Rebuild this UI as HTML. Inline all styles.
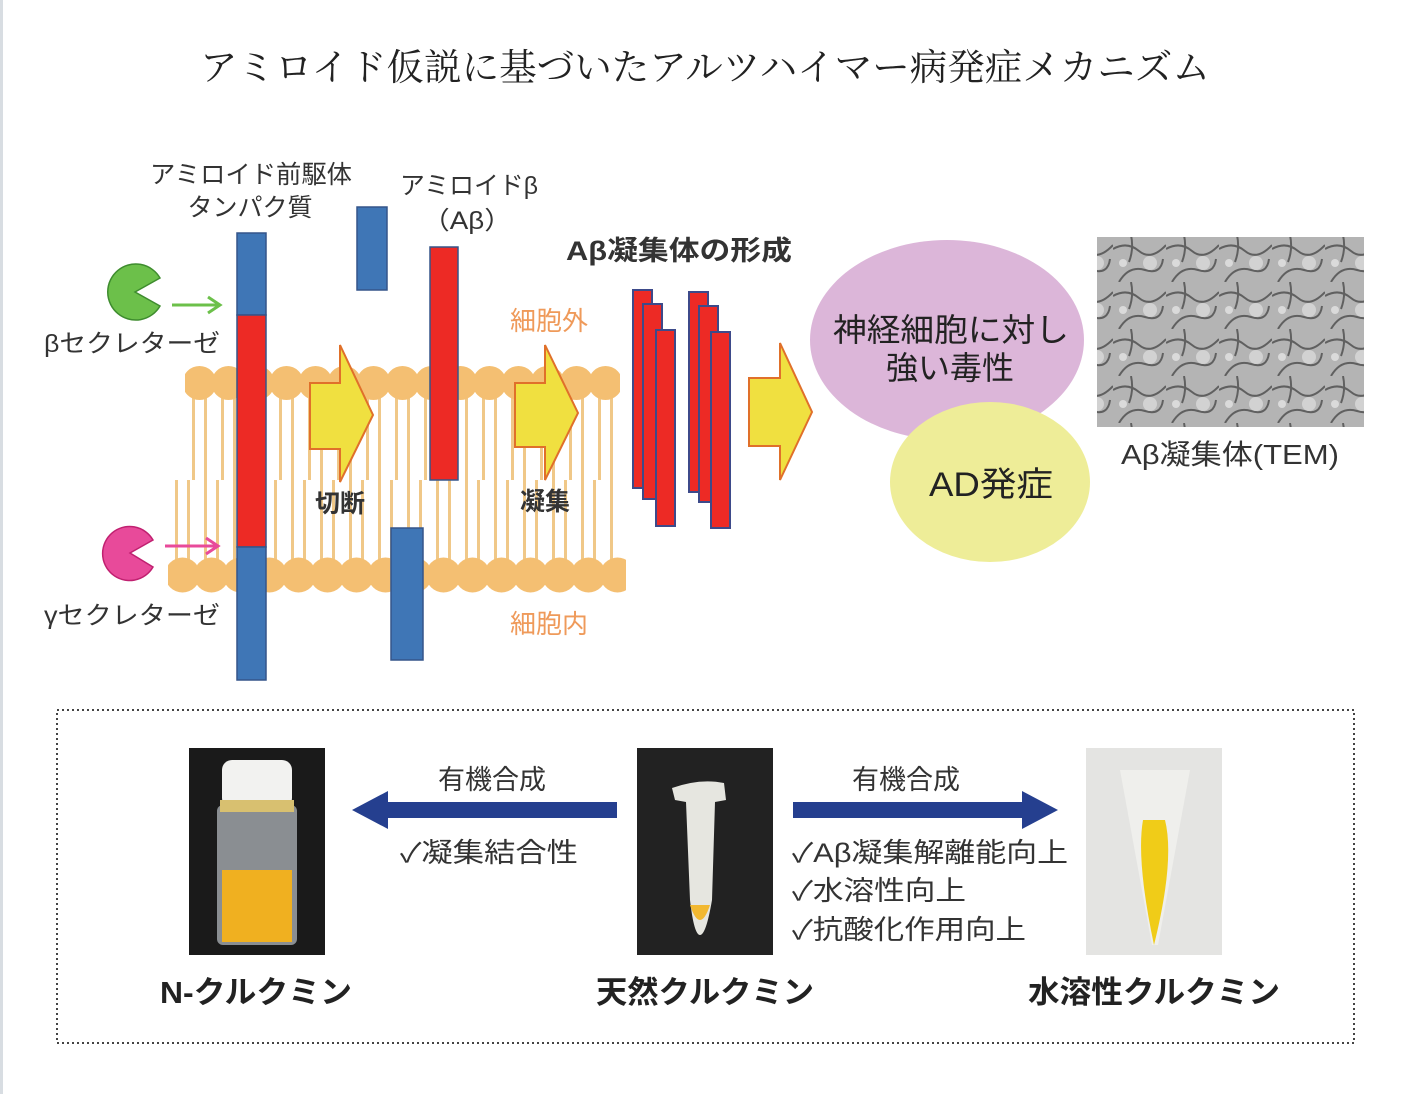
<!DOCTYPE html>
<html><head><meta charset="utf-8"><style>
html,body{margin:0;padding:0;background:#fff}
svg{display:block}
text{font-family:"Liberation Sans","Noto Sans CJK JP",sans-serif}
</style></head><body>
<svg width="1405" height="1094" viewBox="0 0 1405 1094" xmlns="http://www.w3.org/2000/svg">
<defs>
<pattern id="heads" x="185" y="366" width="29" height="36" patternUnits="userSpaceOnUse">
<circle cx="14.5" cy="17" r="17" fill="#f4bf72"/></pattern>
<pattern id="heads2" x="168" y="557" width="29" height="36" patternUnits="userSpaceOnUse">
<circle cx="14.5" cy="18" r="17.5" fill="#f4bf72"/></pattern>
<pattern id="tails" x="185" y="0" width="29" height="10" patternUnits="userSpaceOnUse">
<rect x="7" y="0" width="3" height="10" fill="#f0c888"/><rect x="19" y="0" width="3" height="10" fill="#f0c888"/></pattern>
<pattern id="tails2" x="168" y="0" width="29" height="10" patternUnits="userSpaceOnUse">
<rect x="7" y="0" width="3" height="10" fill="#f0c888"/><rect x="19" y="0" width="3" height="10" fill="#f0c888"/></pattern>
<pattern id="tem" width="53" height="47" patternUnits="userSpaceOnUse">
<rect width="53" height="47" fill="#b4b4b4"/>
<path d="M0 14 Q14 6 26 16 T53 10 M6 47 Q16 30 32 35 T50 24 M18 0 Q21 14 16 27" stroke="#606060" stroke-width="2" fill="none"/>
<circle cx="37" cy="28" r="7" fill="#d2d2d2"/><circle cx="10" cy="28" r="4" fill="#dadada"/></pattern>
</defs>
<rect x="0" y="0" width="3" height="1094" fill="#d8dde2"/>

<text x="200" y="80" font-size="37" textLength="1010" lengthAdjust="spacingAndGlyphs" style="font-family:'Liberation Serif','Noto Serif CJK SC',serif" fill="#222">アミロイド仮説に基づいたアルツハイマー病発症メカニズム</text>

<!-- membrane -->
<rect x="185" y="395" width="435" height="85" fill="url(#tails)"/>
<rect x="168" y="480" width="452" height="85" fill="url(#tails2)"/>
<rect x="185" y="366" width="435" height="36" fill="url(#heads)"/>
<rect x="168" y="557" width="458" height="36" fill="url(#heads2)"/>

<!-- bars -->
<rect x="237" y="233" width="29" height="82" fill="#3f76b6" stroke="#35558a" stroke-width="1.5"/>
<rect x="237" y="315" width="29" height="232" fill="#ed2a25" stroke="#35558a" stroke-width="1.5"/>
<rect x="237" y="547" width="29" height="133" fill="#3f76b6" stroke="#35558a" stroke-width="1.5"/>
<rect x="357" y="207" width="30" height="83" fill="#3f76b6" stroke="#35558a" stroke-width="1.5"/>
<rect x="430" y="247" width="28" height="233" fill="#ed2a25" stroke="#35558a" stroke-width="1.5"/>
<rect x="391" y="528" width="32" height="132" fill="#3f76b6" stroke="#35558a" stroke-width="1.5"/>

<!-- pacmen -->
<path d="M135 292 L160 278 A28 28 0 1 0 160 306 Z" fill="#6cc04a" stroke="#3e8c2e" stroke-width="1.5"/>
<path d="M172 305 L218 305" stroke="#6cc04a" stroke-width="3"/><path d="M208 297 L220 305 L208 313" stroke="#6cc04a" stroke-width="3" fill="none"/>
<path d="M130 553 L153 540 A27 27 0 1 0 153 567 Z" fill="#e84a9a" stroke="#c02070" stroke-width="1.5"/>
<path d="M165 546 L216 546" stroke="#e84a9a" stroke-width="3"/><path d="M206 538 L218 546 L206 554" stroke="#e84a9a" stroke-width="3" fill="none"/>

<!-- yellow arrows -->
<path d="M310 383 L340 383 L340 345 L373 415 L340 482 L340 449 L310 449 Z" fill="#f0e040" stroke="#e0702a" stroke-width="2"/>
<path d="M515 383 L545 383 L545 345 L578 413 L545 480 L545 447 L515 447 Z" fill="#f0e040" stroke="#e0702a" stroke-width="2"/>
<path d="M749 378 L780 378 L780 343 L812 412 L780 480 L780 446 L749 446 Z" fill="#f0e040" stroke="#e0702a" stroke-width="2"/>

<!-- fibrils -->
<g fill="#ed2a25" stroke="#3d4a8a" stroke-width="2">
<rect x="633" y="290" width="19" height="198"/><rect x="643" y="304" width="19" height="195"/><rect x="656" y="330" width="19" height="196"/>
<rect x="689" y="292" width="19" height="200"/><rect x="699" y="306" width="19" height="196"/><rect x="711" y="332" width="19" height="196"/>
</g>

<!-- ellipses -->
<ellipse cx="947" cy="340" rx="137" ry="100" fill="#dcb6d9"/>
<ellipse cx="990" cy="482" rx="100" ry="80" fill="#eeed98"/>
<text x="833" y="341" font-size="32" textLength="236" lengthAdjust="spacingAndGlyphs" fill="#222">神経細胞に対し</text>
<text x="950" y="379" font-size="32" text-anchor="middle" fill="#222">強い毒性</text>
<text x="929" y="496" font-size="34" textLength="124" lengthAdjust="spacingAndGlyphs" fill="#222">AD発症</text>

<rect x="1097" y="237" width="267" height="190" fill="url(#tem)"/>
<text x="1121" y="464" font-size="28" textLength="218" lengthAdjust="spacingAndGlyphs" fill="#333">Aβ凝集体(TEM)</text>

<!-- labels -->
<g font-size="25" fill="#333">
<text x="150" y="183" textLength="202" lengthAdjust="spacingAndGlyphs">アミロイド前駆体</text>
<text x="250" y="216" text-anchor="middle">タンパク質</text>
<text x="400" y="194" textLength="138" lengthAdjust="spacingAndGlyphs">アミロイドβ</text>
<text x="422" y="229" textLength="90" lengthAdjust="spacingAndGlyphs">（Aβ）</text>
<text x="566" y="260" font-size="27" textLength="226" lengthAdjust="spacingAndGlyphs" font-weight="bold">Aβ凝集体の形成</text>
<text x="44" y="352" textLength="176" lengthAdjust="spacingAndGlyphs">βセクレターゼ</text>
<text x="44" y="624" textLength="176" lengthAdjust="spacingAndGlyphs">γセクレターゼ</text>
<text x="340" y="512" text-anchor="middle" font-weight="bold">切断</text>
<text x="545" y="510" text-anchor="middle" font-weight="bold">凝集</text>
</g>
<text x="549" y="330" font-size="26" text-anchor="middle" fill="#ef9a5a">細胞外</text>
<text x="549" y="633" font-size="26" text-anchor="middle" fill="#ef9a5a">細胞内</text>

<!-- bottom -->
<rect x="57" y="710" width="1297" height="333" fill="none" stroke="#444" stroke-width="2" stroke-dasharray="2,3"/>
<!-- photo 1 -->
<rect x="189" y="748" width="136" height="207" fill="#1a1a1a"/>
<rect x="217" y="805" width="80" height="140" rx="6" fill="#8a8e92"/>
<rect x="222" y="760" width="70" height="48" rx="10" fill="#f2f2f0"/>
<rect x="220" y="800" width="74" height="12" fill="#d8c070"/>
<rect x="222" y="870" width="70" height="72" fill="#f0b020"/>
<!-- photo 2 -->
<rect x="637" y="748" width="136" height="207" fill="#222"/>
<path d="M672 788 Q700 778 724 783 L726 800 L715 802 L712 900 Q706 935 700 935 Q694 935 690 900 L686 802 L675 800 Z" fill="#e6e6e0"/>
<path d="M690 905 Q700 935 710 905 Z" fill="#f2b830"/>
<!-- photo 3 -->
<rect x="1086" y="748" width="136" height="207" fill="#e4e4e2"/>
<path d="M1120 770 L1190 770 L1158 945 L1152 945 Z" fill="#efefec"/>
<path d="M1143 820 L1165 820 Q1175 860 1154 945 Q1136 860 1143 820 Z" fill="#f0cc18"/>

<path d="M617 810 L385 810" stroke="#253f8f" stroke-width="16"/>
<path d="M388 791 L352 810 L388 829 Z" fill="#253f8f"/>
<path d="M793 810 L1025 810" stroke="#253f8f" stroke-width="16"/>
<path d="M1022 791 L1058 810 L1022 829 Z" fill="#253f8f"/>
<g font-size="27" fill="#333">
<text x="492" y="789" text-anchor="middle">有機合成</text>
<text x="906" y="789" text-anchor="middle">有機合成</text>
<text x="400" y="862" textLength="178" lengthAdjust="spacingAndGlyphs">✓凝集結合性</text>
<text x="792" y="862" textLength="276" lengthAdjust="spacingAndGlyphs">✓Aβ凝集解離能向上</text>
<text x="792" y="900" textLength="174" lengthAdjust="spacingAndGlyphs">✓水溶性向上</text>
<text x="792" y="939" textLength="234" lengthAdjust="spacingAndGlyphs">✓抗酸化作用向上</text>
</g>
<g font-size="31" font-weight="bold" fill="#222">
<text x="160" y="1003" textLength="192" lengthAdjust="spacingAndGlyphs">N-クルクミン</text>
<text x="596" y="1003" textLength="218" lengthAdjust="spacingAndGlyphs">天然クルクミン</text>
<text x="1028" y="1003" textLength="252" lengthAdjust="spacingAndGlyphs">水溶性クルクミン</text>
</g>
</svg>
</body></html>
